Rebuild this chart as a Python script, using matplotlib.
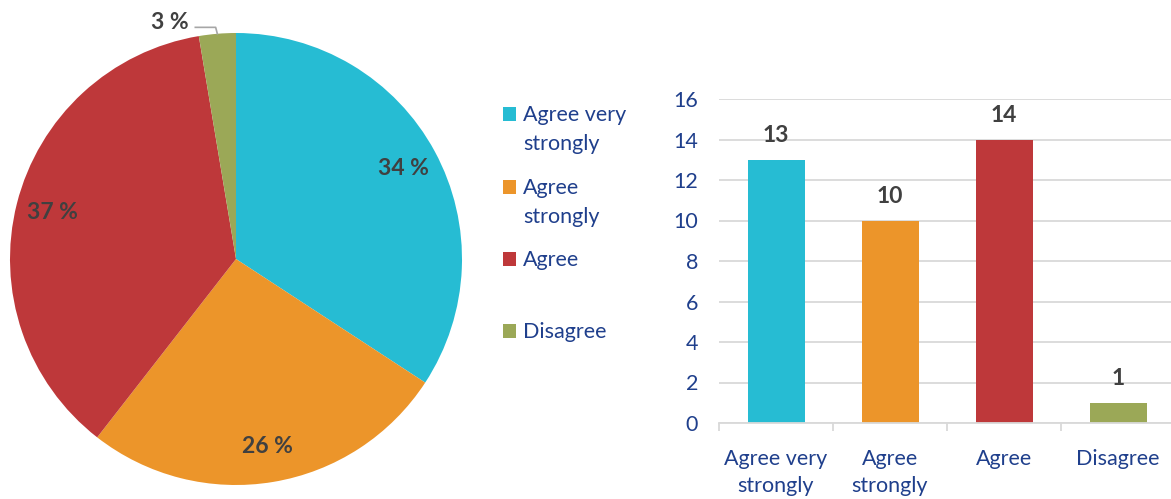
import matplotlib
matplotlib.use("Agg")
import matplotlib.pyplot as plt
from matplotlib.patches import Rectangle
import numpy as np

categories = ["Agree very\nstrongly", "Agree\nstrongly", "Agree", "Disagree"]
counts = [13, 10, 14, 1]
colors = ["#26BCD3", "#EC952A", "#BE383A", "#9BA857"]
yticks = [0, 2, 4, 6, 8, 10, 12, 14, 16]

W, H = 1171, 499
plt.rcParams["font.family"] = ["Lato", "DejaVu Sans"]
TXT = "#1F3F8C"
LBL = "#404040"
FS = 15.5
BFS = 16.5

fig = plt.figure(figsize=(W / 100, H / 100), dpi=100)


def px(x, y):
    """pixel (from top-left) -> figure fraction"""
    return x / W, 1 - y / H


# ---- pie ----
cx, cy, r = 236, 259, 226
pax = fig.add_axes([(cx - r) / W, (H - cy - r) / H, 2 * r / W, 2 * r / H])
total = sum(counts)
pcts = [round(100 * c / total) for c in counts]
wedges, _ = pax.pie(counts, colors=colors, startangle=90, counterclock=False,
                    radius=1.0, wedgeprops=dict(linewidth=0))
pax.set_xlim(-1, 1)
pax.set_ylim(-1, 1)
pax.set_aspect("equal")
pax.axis("off")

cum = 0
for c, p in zip(counts, pcts):
    mid = 90 - (cum + c / 2) / total * 360
    cum += c
    a = np.deg2rad(mid)
    if p >= 5:
        pax.text(0.84 * np.cos(a), 0.84 * np.sin(a), f"{p} %", ha="center", va="center",
                 fontsize=BFS, fontweight="bold", color=LBL)
    else:
        ex, ey = np.cos(a), np.sin(a)
        pax.plot([-0.18, -0.09, ex], [1.025, 1.025, ey], color="#A6A6A6", lw=1.2,
                 clip_on=False)
        pax.text(-0.21, 1.045, f"{p} %", ha="right", va="center", fontsize=BFS,
                 fontweight="bold", color=LBL)

# ---- legend ----
leg_y = [114, 187, 259, 331]
for lab, col, y in zip(categories, colors, leg_y):
    x0, y0 = px(503, y + 7)
    fig.patches.append(Rectangle((x0, y0), 13 / W, 14 / H, transform=fig.transFigure,
                                 facecolor=col, edgecolor="none"))
    for k, line in enumerate(lab.split("\n")):
        fig.text(*px(523, y + 7 + 29 * k), line, fontsize=FS, color=TXT,
                 ha="left", va="baseline")

# ---- bars ----
left, right, top, bottom = 719, 1175, 99, 423
bax = fig.add_axes([left / W, (H - bottom) / H, (right - left) / W, (bottom - top) / H])
x = np.arange(len(categories))
bars = bax.bar(x, counts, width=0.5, color=colors, zorder=2)
bax.set_xlim(-0.5, len(categories) - 0.5)
bax.set_ylim(0, 16)
bax.set_yticks(yticks)
bax.yaxis.grid(True, color="#D9D9D9", lw=1.3, zorder=0)
bax.set_axisbelow(True)
for s in ["top", "right", "left"]:
    bax.spines[s].set_visible(False)
bax.spines["bottom"].set_color("#D9D9D9")
bax.spines["bottom"].set_linewidth(1.3)
bax.tick_params(axis="y", length=0, pad=15, labelsize=FS, labelcolor=TXT)
bax.set_xticks(x)
bax.set_xticklabels(categories, fontsize=FS, color=TXT, linespacing=1.45)
bax.tick_params(axis="x", which="major", length=0, pad=18.5)
bax.set_xticks(np.arange(len(categories) + 1) - 0.5, minor=True)
bax.tick_params(axis="x", which="minor", length=5.5, width=1.3, color="#D9D9D9")
for b, v in zip(bars, counts):
    bax.annotate(f"{v}", (b.get_x() + b.get_width() / 2, v), xytext=(0, 10),
                 textcoords="offset points", ha="center", va="bottom",
                 fontsize=BFS, fontweight="bold", color=LBL)

fig.savefig("out.png", dpi=100, facecolor="white")
